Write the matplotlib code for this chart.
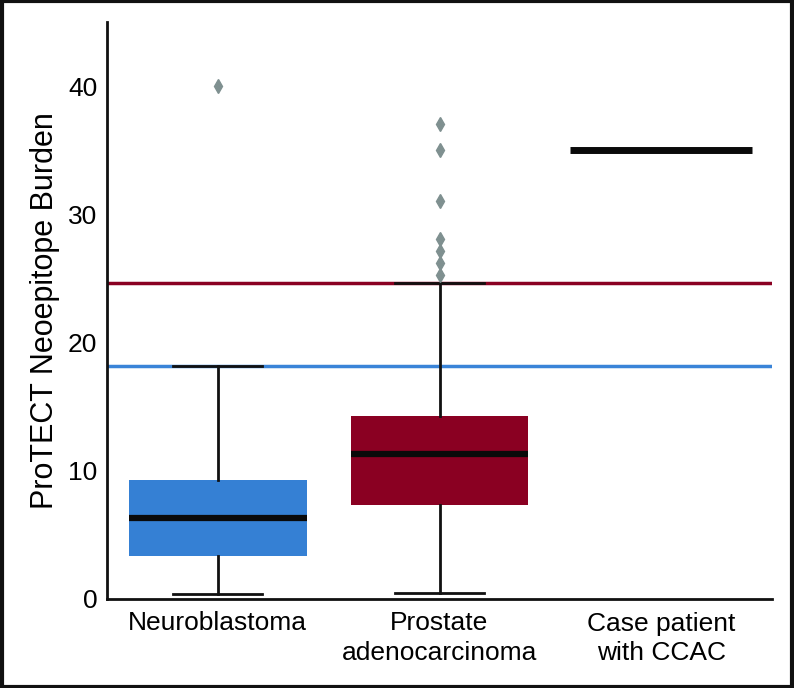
import numpy as np
import matplotlib
matplotlib.use('Agg')
import matplotlib.pyplot as plt
from matplotlib.patches import Rectangle

plt.rcParams['font.family'] = ['Liberation Sans', 'DejaVu Sans']

#%% data
groups = ['Neuroblastoma', 'Prostate\nadenocarcinoma', 'Case patient\nwith CCAC']
box_colors = ['#3580d4', '#8a0022']
whislo = [0.42, 0.44]
q1 = [3.38, 7.34]
med = [6.33, 11.33]
q3 = [9.27, 14.27]
whishi = [18.2, 24.66]
fliers_nb = [40.0]
fliers_pa = [37.03, 35.05, 31.07, 28.1, 27.16, 26.2, 25.23]
case_value = 35.05
ref_nb = 18.2
ref_pa = 24.66
yticks = [0, 10, 20, 30, 40]

#%% plot
fig = plt.figure(figsize=(7.94, 6.88), dpi=100)
ax = fig.add_axes([107 / 794, 1 - 599 / 688, 665 / 794, 577 / 688])

# reference lines across the whole axis
ax.axhline(ref_pa, color='#8a0022', lw=2.5, zorder=1)
ax.axhline(ref_nb, color='#3a84d8', lw=2.5, zorder=1)

stats = []
for i, fl in enumerate([fliers_nb, fliers_pa]):
    stats.append(dict(whislo=whislo[i], q1=q1[i], med=med[i], q3=q3[i],
                      whishi=whishi[i], fliers=fl))

bp = ax.bxp(stats, positions=[0, 1], widths=0.8, patch_artist=True,
            boxprops=dict(linewidth=0),
            medianprops=dict(color='#0a0a0a', linewidth=4.5),
            whiskerprops=dict(color='#111111', linewidth=2),
            capprops=dict(color='#111111', linewidth=2),
            capwidths=0.4,
            flierprops=dict(marker='d', markerfacecolor='#7f9090',
                            markeredgecolor='#7f9090', markersize=7))
for patch, c in zip(bp['boxes'], box_colors):
    patch.set_facecolor(c)
    patch.set_edgecolor(c)
for k in ['whiskers', 'caps', 'medians', 'fliers', 'boxes']:
    for a in bp[k]:
        a.set_zorder(3)
for a in bp['medians']:
    a.set_zorder(4)

# single value for the case patient
ax.hlines(case_value, 2 - 0.41, 2 + 0.41, color='#0a0a0a', lw=5, zorder=3)

ax.set_xlim(-0.5, 2.5)
ax.set_ylim(0, 45)
ax.set_xticks([0, 1, 2])
ax.set_xticklabels(groups, fontsize=19, linespacing=1.3)
ax.set_yticks(yticks)
ax.set_yticklabels([str(t) for t in yticks], fontsize=19)
ax.tick_params(length=0, pad=7)
ax.tick_params(axis='x', pad=9)
ax.spines['top'].set_visible(False)
ax.spines['right'].set_visible(False)
ax.spines['left'].set_linewidth(2)
ax.spines['bottom'].set_linewidth(2)
ax.spines['left'].set_color('#111111')
ax.spines['bottom'].set_color('#111111')
ax.set_ylabel('ProTECT Neoepitope Burden', fontsize=22, labelpad=6)

# frame around the figure
fig.patches.append(Rectangle((0.002, 0.002), 0.996, 0.996, transform=fig.transFigure,
                             fill=False, edgecolor='#111111', linewidth=3))

fig.savefig('out.png', dpi=100)
